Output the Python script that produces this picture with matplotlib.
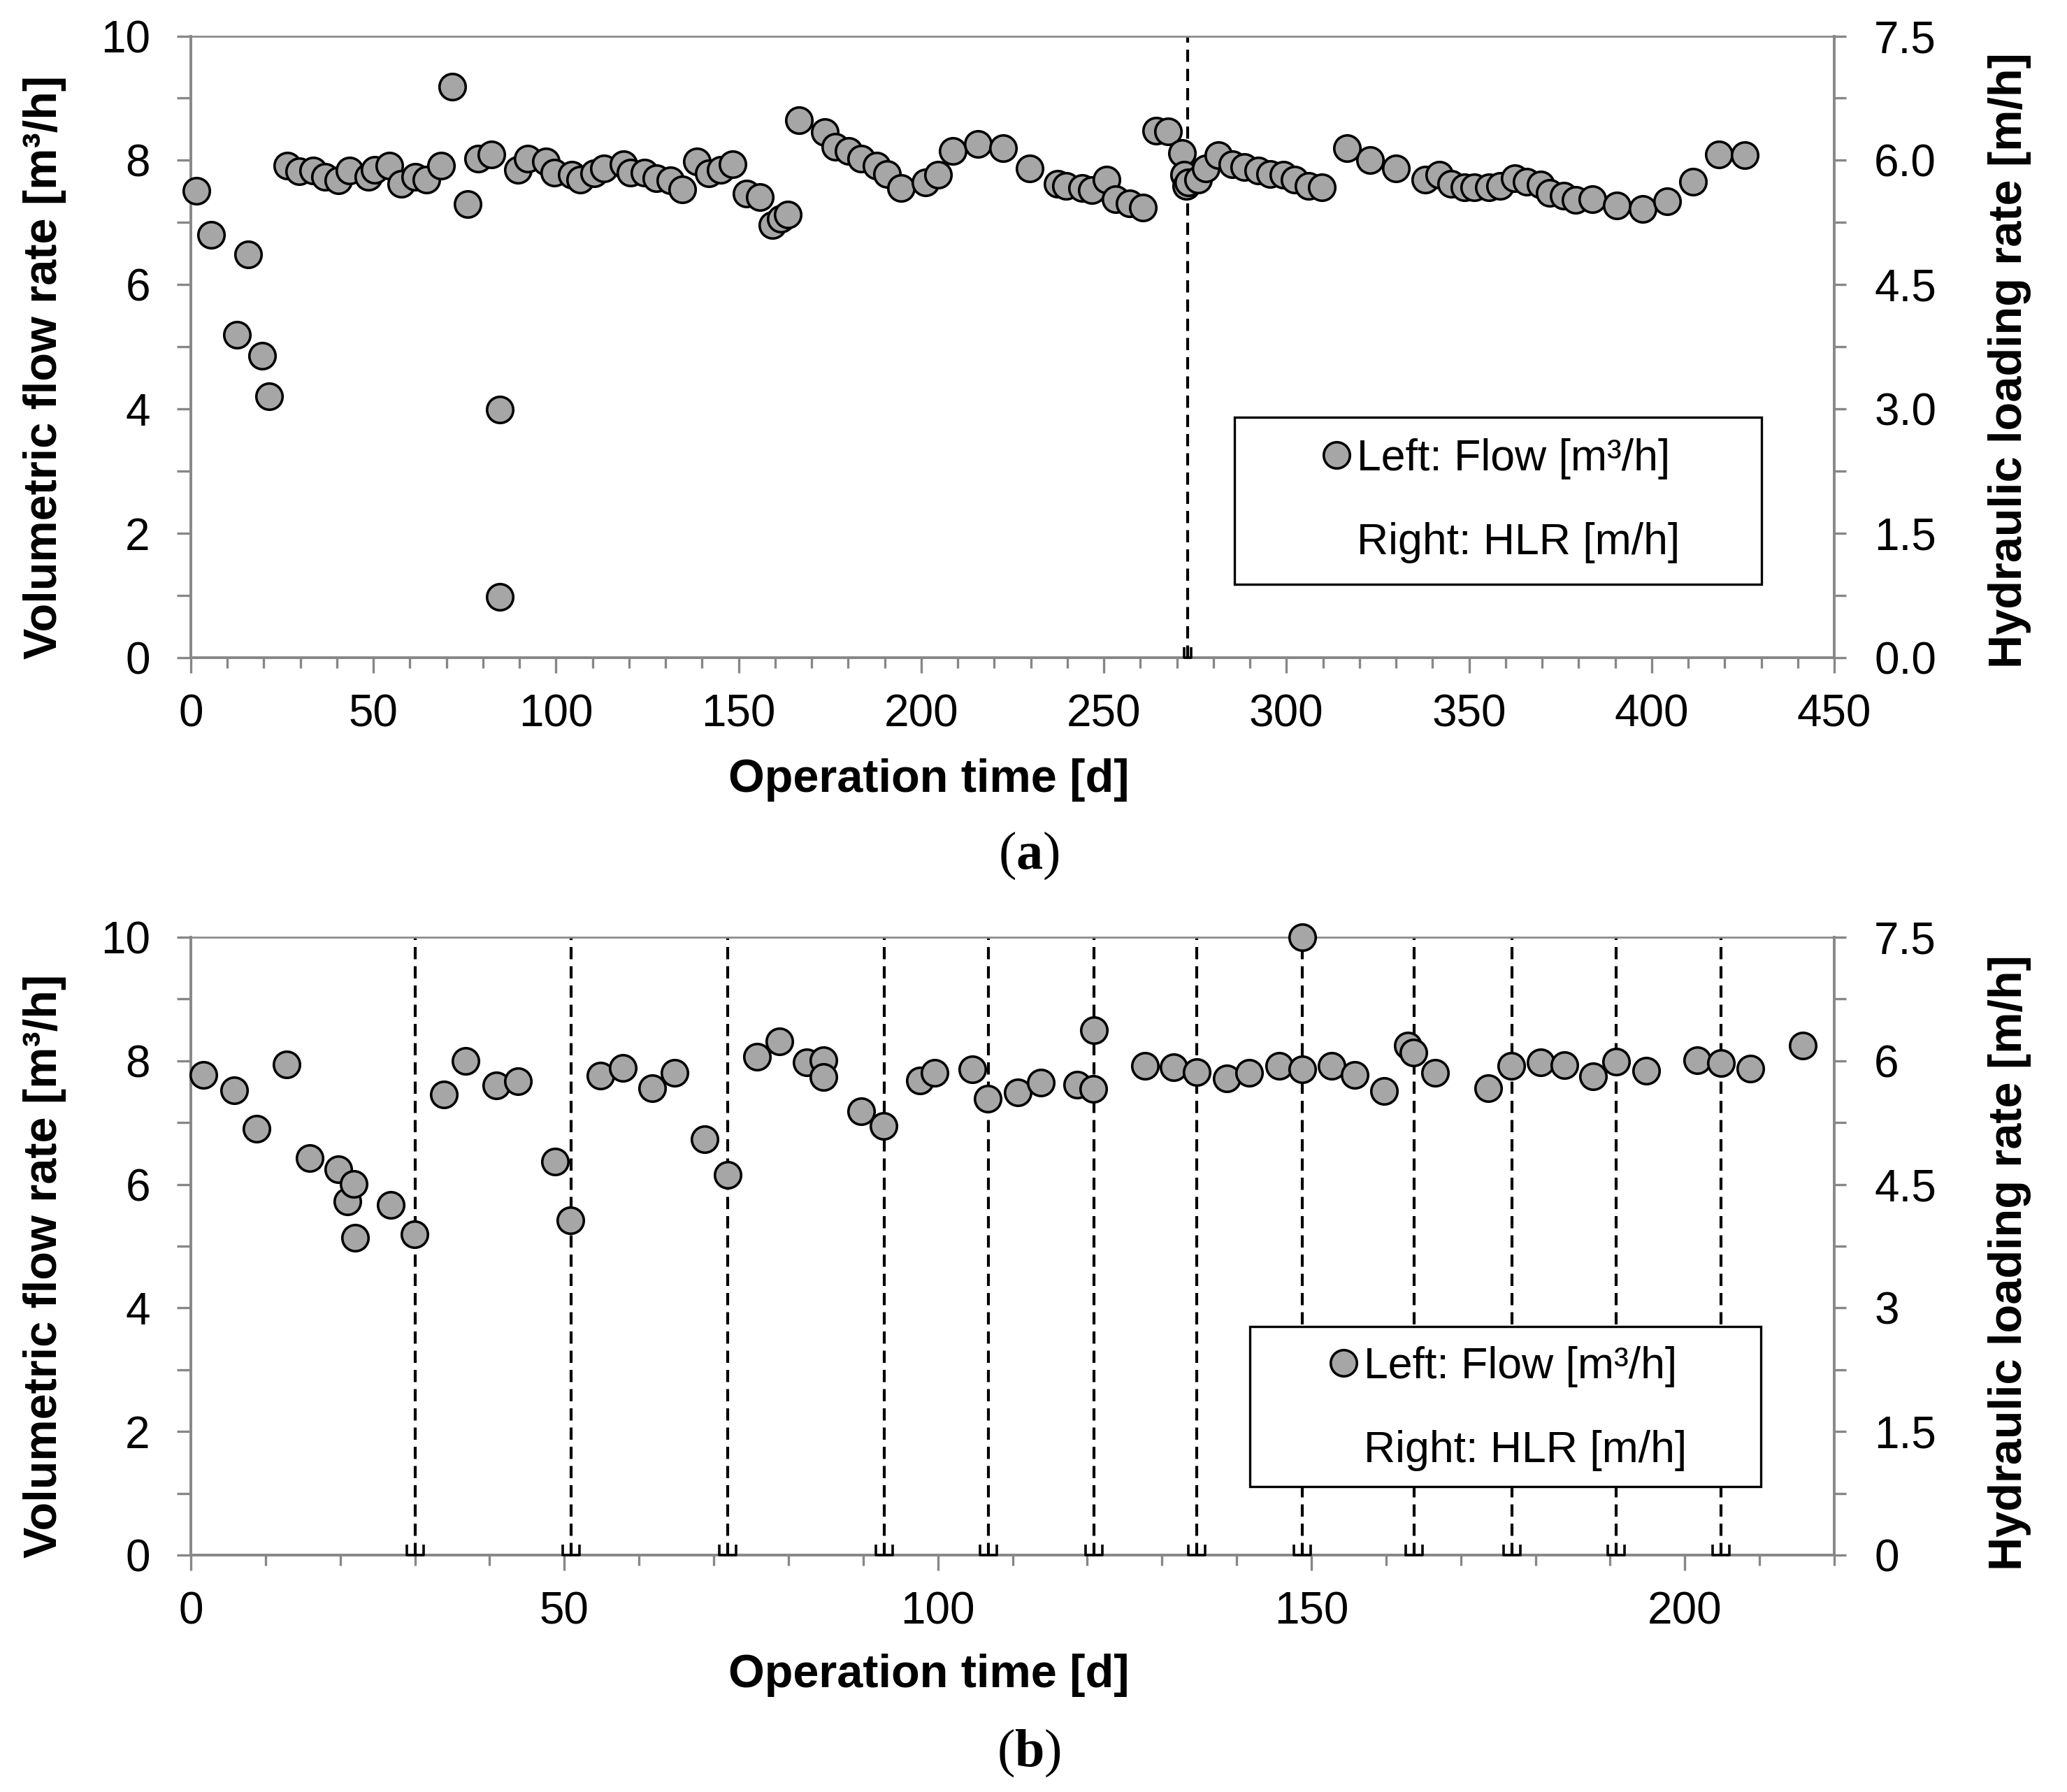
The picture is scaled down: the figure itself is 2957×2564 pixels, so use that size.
import matplotlib
matplotlib.use('Agg')
import matplotlib.pyplot as plt
from matplotlib.ticker import MultipleLocator, FormatStrFormatter
from matplotlib.path import Path
from matplotlib.patches import Rectangle
from matplotlib.lines import Line2D

plt.rcParams['font.family'] = ['Liberation Sans', 'DejaVu Sans']
plt.rcParams['mathtext.fontset'] = 'custom'
plt.rcParams['mathtext.rm'] = 'Liberation Serif'
plt.rcParams['mathtext.bf'] = 'Liberation Serif:bold'

# ---------------- data ----------------
a_days = [1.6, 5.5, 12.6, 15.6, 19.6, 21.5, 26.4, 29.7, 33.5, 36.8, 40.4, 43.4, 48.6, 50.3,
          54.4, 57.7, 61.5, 64.6, 68.5, 71.6, 75.8, 78.6, 82.4, 84.6, 84.6, 89.6, 92.3, 97.3,
          99.5, 104.4, 106.6, 110.4, 113.2, 118.5, 120.3, 124.2, 127.5, 131.3, 134.6, 138.5,
          141.8, 145.1, 148.4, 152.2, 155.8, 159.3, 161.5, 163.5, 166.5, 173.6, 176.4, 180.2,
          183.5, 187.7, 190.7, 194.5, 201.1, 204.6, 208.6, 215.6, 222.5, 229.7, 237.4, 239.6,
          244.0, 246.7, 250.8, 253.3, 257.1, 260.7, 264.3, 267.6, 271.4, 272.0, 272.5, 273.1,
          275.8, 278.0, 281.3, 285.2, 288.5, 292.3, 295.6, 299.2, 302.2, 306.0, 309.7, 316.6,
          323.0, 330.0, 338.0, 341.9, 345.1, 348.7, 351.5, 355.4, 358.6, 362.5, 365.7, 369.6,
          372.1, 376.0, 379.2, 383.7, 390.4, 397.6, 404.3, 411.4, 418.5, 425.5]
a_flow = [7.51, 6.80, 5.19, 6.49, 4.86, 4.20, 7.92, 7.82, 7.84, 7.74, 7.68, 7.84, 7.73, 7.85,
          7.92, 7.62, 7.74, 7.69, 7.92, 9.19, 7.30, 8.03, 8.10, 3.99, 0.98, 7.85, 8.03, 7.98,
          7.80, 7.77, 7.69, 7.79, 7.87, 7.94, 7.80, 7.80, 7.71, 7.68, 7.53, 7.98,
          7.79, 7.85, 7.94, 7.46, 7.41, 6.96, 7.06, 7.13, 8.64, 8.45, 8.22, 8.15,
          8.03, 7.92, 7.78, 7.55, 7.64, 7.77, 8.15, 8.26, 8.19, 7.87, 7.62, 7.59,
          7.55, 7.52, 7.69, 7.38, 7.31, 7.24, 8.48, 8.47, 8.12, 7.77, 7.59, 7.64,
          7.69, 7.87, 8.08, 7.94, 7.89, 7.84, 7.78, 7.77, 7.69, 7.59, 7.57, 8.20,
          8.01, 7.87, 7.69, 7.77, 7.62, 7.57, 7.57, 7.57, 7.59, 7.71, 7.66, 7.61,
          7.48, 7.43, 7.36, 7.38, 7.27, 7.22, 7.34, 7.66, 8.10, 8.08]
a_events = [272.9]

b_days = [1.7, 5.8, 8.8, 12.8, 15.9, 19.7, 21.0, 21.8, 22.0, 26.8, 29.9, 33.9, 36.8, 40.9,
          43.8, 48.8, 50.8, 54.8, 57.8, 61.8, 64.8, 68.8, 71.9, 75.8, 78.8, 82.4, 84.7, 84.7,
          89.7, 92.7, 97.6, 99.6, 104.6, 106.7, 110.7, 113.8, 118.7, 120.8, 120.9, 127.7,
          131.6, 134.7, 138.7, 141.7, 145.7, 148.8, 148.8, 152.7, 155.8, 159.7, 162.9, 163.7,
          166.6, 173.7, 176.8, 180.7, 183.9, 187.7, 190.8, 194.8, 201.7, 204.8, 208.8, 215.8]
b_flow = [7.77, 7.52, 6.90, 7.94, 6.42, 6.25, 5.72, 6.01, 5.14, 5.67, 5.19, 7.45, 8.00, 7.60,
          7.67, 6.37, 5.42, 7.76, 7.88, 7.56, 7.81, 6.73, 6.15, 8.07, 8.32, 7.97, 8.01, 7.74,
          7.18, 6.95, 7.68, 7.81, 7.86, 7.39, 7.49, 7.65, 7.61, 7.54, 8.49, 7.92,
          7.90, 7.82, 7.72, 7.81, 7.92, 10.0, 7.86, 7.92, 7.77, 7.51, 8.25, 8.13,
          7.81, 7.56, 7.92, 7.97, 7.93, 7.75, 7.99, 7.84, 8.01, 7.96, 7.87, 8.25]
b_events = [30.0, 50.9, 71.9, 92.8, 106.8, 120.9, 134.7, 148.8, 163.8, 176.9, 190.8, 204.8]

flow_label = 'Left: Flow [m³/h]'
hlr_label = 'Right: HLR [m/h]'
ylabel_left = 'Volumetric flow rate [m³/h]'
ylabel_right = 'Hydraulic loading rate [m/h]'
xlabel = 'Operation time [d]'

# ---------------- layout ----------------
W, H = 2957, 2564
DPI = 100
fig = plt.figure(figsize=(W / DPI, H / DPI), dpi=DPI)
fig.patch.set_facecolor('white')


def fx(px):
    return px / W


def fy(py):
    return 1 - py / H


GRAY = '#878787'
FACE = '#A6A6A6'
TICK_FS = 46
LAB_FS = 48


def bracket_marker(halfw):
    verts = [(-halfw, 1.2), (-halfw, 0), (halfw, 0), (halfw, 1.2), (0, 0), (0, 1.2)]
    codes = [Path.MOVETO, Path.LINETO, Path.LINETO, Path.LINETO, Path.MOVETO, Path.LINETO]
    return Path(verts, codes)


def panel(top, bottom, xmax, days, flow, events, rfmt, halfw, box, anchor):
    ax = fig.add_axes([fx(273), fy(bottom), fx(2624) - fx(273), (bottom - top) / H])
    ax.set_xlim(0, xmax)
    ax.set_ylim(0, 10)
    ax.patch.set_visible(False)

    ax.vlines(events, 0, 10, colors='black', linestyles=(0, (4.2, 2.4)),
              linewidth=3.0, zorder=2)
    ax.plot(events, [0] * len(events), linestyle='none', marker=bracket_marker(halfw),
            ms=21, mfc='none', mec='black', mew=2.6, clip_on=False, zorder=4)
    h, = ax.plot(days, flow, linestyle='none', marker='o', ms=27, mfc=FACE, mec='black',
                 mew=2.6, clip_on=False, zorder=3, label=flow_label)

    for s in ['left', 'bottom']:
        ax.spines[s].set_color(GRAY)
        ax.spines[s].set_linewidth(2.8)
    ax.spines['top'].set_color(GRAY)
    ax.spines['top'].set_linewidth(1.9)
    ax.spines['right'].set_visible(False)

    ax.xaxis.set_ticks_position('bottom')
    ax.yaxis.set_ticks_position('left')
    ax.xaxis.set_major_locator(MultipleLocator(50))
    ax.xaxis.set_minor_locator(MultipleLocator(10))
    ax.yaxis.set_major_locator(MultipleLocator(2))
    ax.yaxis.set_minor_locator(MultipleLocator(1))
    ax.tick_params(axis='x', which='major', direction='out', length=15.8, width=2.4,
                   color=GRAY, pad=21.5, labelsize=TICK_FS, labelcolor='black')
    ax.tick_params(axis='x', which='minor', direction='out', length=10.8, width=2.4,
                   color=GRAY)
    ax.tick_params(axis='y', which='both', direction='out', length=14.4, width=2.4,
                   color=GRAY, pad=27.5, labelsize=TICK_FS, labelcolor='black')

    ax2 = ax.twinx()
    ax2.set_ylim(0, 7.5)
    for s in ['left', 'bottom', 'top']:
        ax2.spines[s].set_visible(False)
    ax2.spines['right'].set_color(GRAY)
    ax2.spines['right'].set_linewidth(2.8)
    ax2.yaxis.set_major_locator(MultipleLocator(1.5))
    ax2.yaxis.set_minor_locator(MultipleLocator(0.75))
    ax2.yaxis.set_major_formatter(FormatStrFormatter(rfmt))
    ax2.tick_params(axis='y', which='both', direction='out', length=12.2, width=2.4,
                    color=GRAY, pad=29, labelsize=TICK_FS, labelcolor='black')

    # legend frame + entries
    x0, y0, x1, y1 = box
    frame = Rectangle((fx(x0), fy(y1)), fx(x1) - fx(x0), (y1 - y0) / H,
                      transform=fig.transFigure, facecolor='white', edgecolor='black',
                      linewidth=2.4, zorder=4.5)
    ax2.add_patch(frame)
    blank = Line2D([], [], linestyle='none')
    leg = ax2.legend(handles=[h, blank], labels=[flow_label, hlr_label], loc='upper left',
                     bbox_to_anchor=(fx(anchor[0]), fy(anchor[1])),
                     bbox_transform=fig.transFigure, frameon=False, borderpad=0,
                     borderaxespad=0, handlelength=0.6, handletextpad=0.16,
                     labelspacing=0.98, fontsize=45, numpoints=1)
    leg.set_zorder(6)
    return ax, ax2


panel(51.5, 941, 450, a_days, a_flow, a_events, '%.1f', 0.45,
      (1766, 597, 2520, 836), (1893.7, 627))
panel(1341, 2225, 220, b_days, b_flow, b_events, '%g', 1.0,
      (1788, 1898, 2519, 2127), (1903.7, 1926))

# axis titles and panel tags
for yl, yr, yx in [(525.5, 515.5, 1133), (1811, 1807, 2414)]:
    fig.text(fx(64.5), fy(yl), ylabel_left, rotation=90, ha='center', va='center',
             fontsize=LAB_FS, fontweight='bold')
    fig.text(fx(2875), fy(yr), ylabel_right, rotation=90, ha='center', va='center',
             fontsize=LAB_FS, fontweight='bold')
    fig.text(fx(1329), fy(yx), xlabel, ha='center', va='baseline',
             fontsize=LAB_FS, fontweight='bold')

fig.text(fx(1472), fy(1243), r'($\mathbf{a}$)', family='Liberation Serif', ha='center',
         va='baseline', fontsize=55)
fig.text(fx(1472), fy(2527), r'($\mathbf{b}$)', family='Liberation Serif', ha='center',
         va='baseline', fontsize=55)

fig.savefig('out.png', dpi=DPI, facecolor='white')
